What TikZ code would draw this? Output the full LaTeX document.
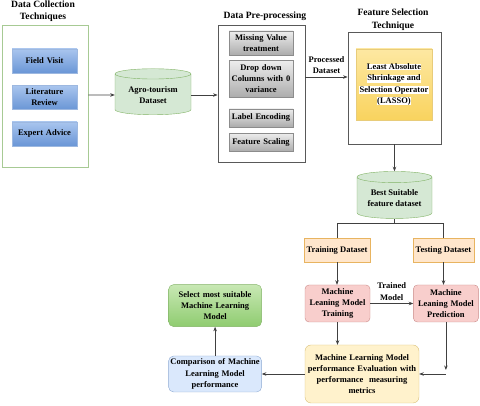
\documentclass[tikz,border=0pt]{standalone}
\usepackage{fontspec}
\setmainfont{Liberation Serif}
\usepackage{tikz}
\usetikzlibrary{arrows.meta,positioning,shapes.geometric}

\definecolor{srctop}{HTML}{A9C5EE}
\definecolor{srcbot}{HTML}{6A96D6}
\definecolor{srcline}{HTML}{9DB8E0}
\definecolor{preptop}{HTML}{EDEDED}
\definecolor{prepbot}{HTML}{ACACAC}
\definecolor{dbfill}{HTML}{D5E8D4}
\definecolor{dbline}{HTML}{82B366}
\definecolor{lassotop}{HTML}{FDE8A2}
\definecolor{lassobot}{HTML}{F9D35E}
\definecolor{lassoline}{HTML}{E8CC7A}
\definecolor{setfill}{HTML}{FFE6CC}
\definecolor{setline}{HTML}{E8B460}
\definecolor{mlfill}{HTML}{F8CECC}
\definecolor{mlline}{HTML}{C98A88}
\definecolor{evalfill}{HTML}{FFF2CC}
\definecolor{evalline}{HTML}{D9C07A}
\definecolor{compfill}{HTML}{DAE8FC}
\definecolor{compline}{HTML}{8EAAD3}
\definecolor{seltop}{HTML}{C8E8B4}
\definecolor{selbot}{HTML}{8FCC70}

\newcommand{\whitehl}[1]{{\setlength{\fboxsep}{0.3pt}\colorbox{white}{#1}}}

\begin{document}
\begin{tikzpicture}[x=1pt, y=1pt, node distance=12pt,
    >={Stealth[length=4.5pt,width=3.5pt]},
    every node/.style={font=\bfseries\fontsize{8.5}{11.2}\selectfont, inner sep=2pt, inner xsep=1pt},
    title/.style={font=\bfseries\fontsize{9.6}{12.5}\selectfont, align=center},
    frame/.style={rectangle, draw=#1, line width=0.8pt},
    srcbox/.style={rectangle, draw=srcline, top color=srctop, bottom color=srcbot, text width=63pt, align=center, minimum height=24pt},
    prepbox/.style={rectangle, draw=black!45, top color=preptop, bottom color=prepbot, text width=62pt, align=center, minimum height=18pt},
    db/.style={cylinder, shape border rotate=90, aspect=0.2, draw=dbline, fill=dbfill, minimum width=76pt, minimum height=46pt, align=center},
    setbox/.style={rectangle, draw=setline, fill=setfill, align=center, minimum height=24pt},
    mlbox/.style={rectangle, rounded corners=4pt, draw=mlline, fill=mlfill, text width=63pt, align=center, minimum height=37pt},
    link/.style={draw=black!75, line width=0.7pt}]
    \useasboundingbox (0,0) rectangle (480,406);

    % data collection
    \node[title] (tcollect) at (43,395) {Data Collection\\Techniques};
    \node[frame=dbline!70, minimum width=86pt, minimum height=142pt] (collect) at (45,310) {};
    \node[srcbox] (field) at (44.5,345) {Field Visit};
    \node[srcbox, below=of field] (review) {Literature\\Review};
    \node[srcbox, below=of review] (expert) {Expert Advice};

    \node[db] (agro) at (153,311) {Agro-tourism\\Dataset};

    % pre-processing
    \node[title] (tprep) at (265,390) {Data Pre-processing};
    \node[frame=black!65, minimum width=87pt, minimum height=137pt] (prep) at (261.5,312.5) {};
    \node[prepbox, minimum height=24pt] (missing) at (261,363) {Missing Value\\treatment};
    \node[prepbox, minimum height=37pt, below=5pt of missing] (dropcol) {Drop down\\Columns with 0\\variance};
    \node[prepbox, below=11pt of dropcol] (encode) {Label Encoding};
    \node[prepbox, below=6pt of encode] (scale) {Feature Scaling};

    % feature selection
    \node[title] (tfeat) at (393,386.5) {Feature Selection\\Technique};
    \node[frame=black!65, minimum width=93pt, minimum height=112pt] (feat) at (394.5,318) {};
    \node[rectangle, draw=lassoline, top color=lassotop, bottom color=lassobot, minimum width=76pt, minimum height=71pt, align=center] (lasso) at (394,321.5)
        {\whitehl{Least Absolute}\\\whitehl{Shrinkage and}\\\whitehl{Selection Operator}\\\whitehl{(LASSO)}};

    \node[db, minimum width=75pt, minimum height=47pt] (best) at (394.5,207.5) {Best Suitable\\feature dataset};

    % model stages
    \node[setbox, minimum width=66pt] (train) at (337,156) {Training Dataset};
    \node[setbox, minimum width=61pt] (test) at (443.5,156) {Testing Dataset};
    \node[mlbox] (mltrain) at (337.5,102.5) {Machine\\Leaning Model\\Training};
    \node[mlbox, right=43pt of mltrain] (mlpred) {Machine\\Leaning Model\\Prediction};
    \node[rectangle, rounded corners=6pt, draw=evalline, fill=evalfill, text width=112pt, align=center, minimum height=58pt] (eval) at (362,32)
        {Machine Learning Model\\performance Evaluation with\\performance~~measuring\\metrics};
    \node[rectangle, rounded corners=5pt, draw=compline, fill=compfill, text width=92pt, inner xsep=0.5pt, align=center, minimum height=36pt, left=43pt of eval] (comp)
        {Comparison of Machine\\Learning Model\\performance};
    \node[rectangle, rounded corners=5pt, draw=dbline, top color=seltop, bottom color=selbot, text width=91pt, align=center, minimum height=42pt, above=29pt of comp] (select)
        {Select most suitable\\Machine Learning\\Model};

    \coordinate (bend) at (mlpred.south |- eval.east);

    \draw[link, ->] (collect.east |- agro) -- (agro.west);
    \draw[link, ->] (agro.east) -- (agro.east -| prep.west);
    \draw[link, ->] ([yshift=16.5pt]prep.east) -- ([yshift=16.5pt]prep.east -| feat.west)
        node[midway, above=1pt, align=center] {Processed\\Dataset};
    \draw[link, ->] (feat.south -| best.north) -- (best.north);
    \draw[link] (best.south) -- ++(0,-5) -| (train.north);
    \draw[link] (best.south) -- ++(0,-5) -| (test.north);
    \draw[link, ->] (train.south) -- (train.south |- mltrain.north);
    \draw[link, ->] (test.south) -- (test.south |- mlpred.north);
    \draw[link, ->] (mltrain.east) -- (mlpred.west)
        node[midway, above=1pt, align=center] {Trained\\Model};
    \draw[link, ->] (mltrain.south) -- (mltrain.south |- eval.north);
    \draw[link, ->] (mlpred.south) -- ([yshift=4pt]bend);
    \draw[link, ->] (bend) -- (eval.east);
    \draw[link, ->] (eval.west) -- (comp.east);
    \draw[link, ->] (comp.north) -- (select.south);
\end{tikzpicture}
\end{document}
